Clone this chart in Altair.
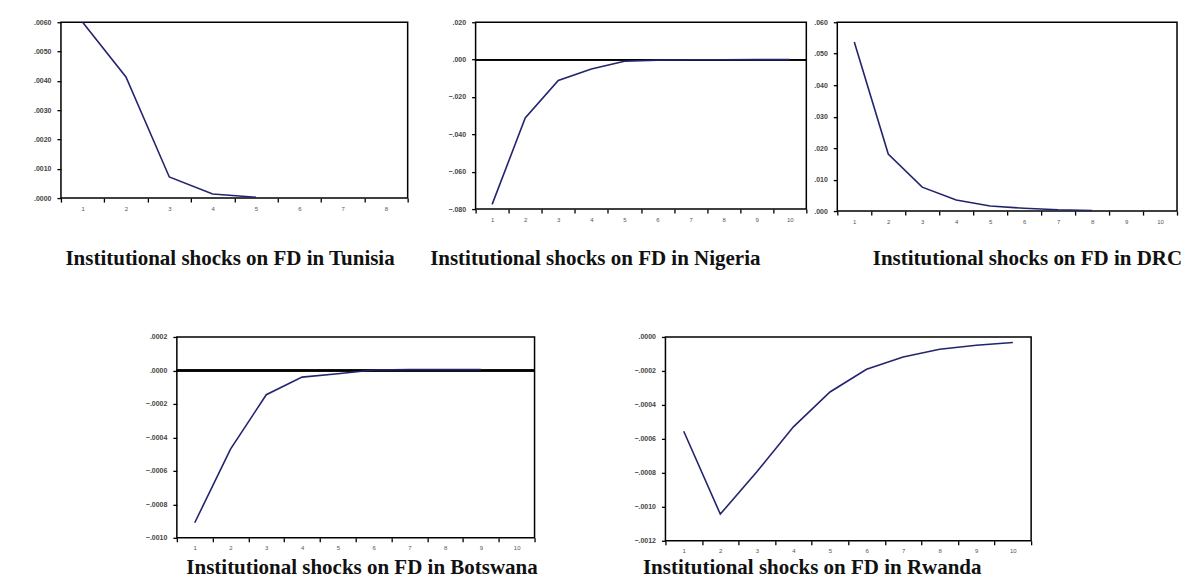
import altair as alt
import pandas as pd

LINE_COLOR = "#24246e"
TITLE_FONT = "Liberation Serif"

# ---- data (impulse responses) ----
tunisia_periods = [1, 2, 3, 4, 5, 6, 7, 8]
tunisia_x = [1, 2, 3, 4, 5]
tunisia_y = [0.0060, 0.00413, 0.00072, 0.00014, 0.00003]
tunisia_ticks = [0.0, 0.001, 0.002, 0.003, 0.004, 0.005, 0.006]

nigeria_periods = [1, 2, 3, 4, 5, 6, 7, 8, 9, 10]
nigeria_x = [1, 2, 3, 4, 5, 6, 7, 8, 9, 10]
nigeria_y = [-0.0775, -0.0312, -0.0112, -0.0050, -0.0009, -0.0003, -0.0001, -0.00005, -0.00002, -0.00001]
nigeria_ticks = [-0.08, -0.06, -0.04, -0.02, 0.0, 0.02]

drc_periods = [1, 2, 3, 4, 5, 6, 7, 8, 9, 10]
drc_x = [1, 2, 3, 4, 5, 6, 7, 8]
drc_y = [0.0537, 0.0181, 0.0076, 0.0035, 0.0016, 0.0009, 0.0004, 0.0002]
drc_ticks = [0.0, 0.01, 0.02, 0.03, 0.04, 0.05, 0.06]

botswana_periods = [1, 2, 3, 4, 5, 6, 7, 8, 9, 10]
botswana_x = [1, 2, 3, 4, 5, 6, 7, 8, 9]
botswana_y = [-0.00091, -0.00047, -0.000145, -0.00004, -0.00002, 0.000003, 0.000005, 0.000005, 0.000005]
botswana_ticks = [-0.0010, -0.0008, -0.0006, -0.0004, -0.0002, 0.0, 0.0002]

rwanda_periods = [1, 2, 3, 4, 5, 6, 7, 8, 9, 10]
rwanda_x = [1, 2, 3, 4, 5, 6, 7, 8, 9, 10]
rwanda_y = [-0.000555, -0.001043, -0.000794, -0.000529, -0.000324, -0.00019, -0.000118, -0.000072, -0.000049, -0.000033]
rwanda_ticks = [-0.0012, -0.0010, -0.0008, -0.0006, -0.0004, -0.0002, 0.0]

titles = [
    "Institutional shocks on FD in Tunisia",
    "Institutional shocks on FD in Nigeria",
    "Institutional shocks on FD in DRC",
    "Institutional shocks on FD in Botswana",
    "Institutional shocks on FD in Rwanda",
]


def panel(xs, ys, periods, yticks, dec, title, w, h, title_x, title_y, zero_rule=False):
    df = pd.DataFrame({"period": xs, "value": ys})
    fmt = "replace(format(datum.value, '.%df'), '0.', '.')" % dec
    x = alt.X(
        "period:O",
        scale=alt.Scale(type="band", domain=periods, paddingInner=0, paddingOuter=0),
        axis=alt.Axis(
            title=title, labelAngle=0, tickBand="extent", domain=False,
            tickSize=4, tickColor="black", tickWidth=1.3,
            labelFontSize=6, labelColor="#555", labelPadding=3, labelFont="Liberation Sans",
            labelOverlap=False,
            titleFont=TITLE_FONT, titleFontSize=21, titleFontWeight="bold", titleColor="#111",
            titleAlign="left", titleAnchor="start", titleX=title_x, titleY=title_y,
            titleBaseline="middle",
        ),
    )
    y_scale = alt.Scale(domain=[yticks[0], yticks[-1]], nice=False, zero=False)
    y_axis = alt.Axis(
        title=None, values=yticks, labelExpr=fmt, grid=False, domain=False,
        tickSize=4, tickColor="black", tickWidth=1.3,
        labelFontSize=7, labelFontWeight="bold", labelColor="#444", labelPadding=6,
        labelFont="Liberation Sans", labelOverlap=False, labelBound=False,
    )
    y = alt.Y("value:Q", scale=y_scale, axis=y_axis)
    layers = []
    if zero_rule:
        layers.append(
            alt.Chart(df).mark_rule(color="black", strokeWidth=1.4).encode(
                y=alt.Y(datum=0, type="quantitative", scale=y_scale, axis=y_axis)
            )
        )
    layers.append(alt.Chart(df).mark_line(color=LINE_COLOR, strokeWidth=1.6).encode(x=x, y=y))
    return alt.layer(*layers).properties(width=w, height=h)


def spacer(w, h):
    df = pd.DataFrame({"a": [0]})
    return (
        alt.Chart(df)
        .mark_point(opacity=0)
        .encode(x=alt.X("a:Q", axis=None), y=alt.Y("a:Q", axis=None))
        .properties(width=w, height=h, view=alt.ViewBackground(strokeOpacity=0))
    )


tunisia = panel(tunisia_x, tunisia_y, tunisia_periods, tunisia_ticks, 4, titles[0], 347, 176, 4, 60)
nigeria = panel(nigeria_x, nigeria_y, nigeria_periods, nigeria_ticks, 3, titles[1], 331, 187, -46, 49, True)
drc = panel(drc_x, drc_y, drc_periods, drc_ticks, 3, titles[2], 340, 189, 35, 47)
botswana = panel(botswana_x, botswana_y, botswana_periods, botswana_ticks, 4, titles[3], 358, 201, 9, 30, True)
rwanda = panel(rwanda_x, rwanda_y, rwanda_periods, rwanda_ticks, 4, titles[4], 366, 204, -23, 27)

row1 = alt.hconcat(tunisia, spacer(6, 10), nigeria, drc, spacing=31, bounds="flush")
row2 = alt.hconcat(spacer(85, 10), botswana, spacer(69, 10), rwanda, spacing=31, bounds="flush")

chart = alt.vconcat(
    row1, row2, spacing=63, bounds="full"
).properties(
    padding={"left": 24, "top": 9, "right": 4, "bottom": 5},
    background="white",
).configure_view(
    stroke="black", strokeWidth=1.5
)

chart.save("out.html", embed_options={"renderer": "svg", "actions": False})
